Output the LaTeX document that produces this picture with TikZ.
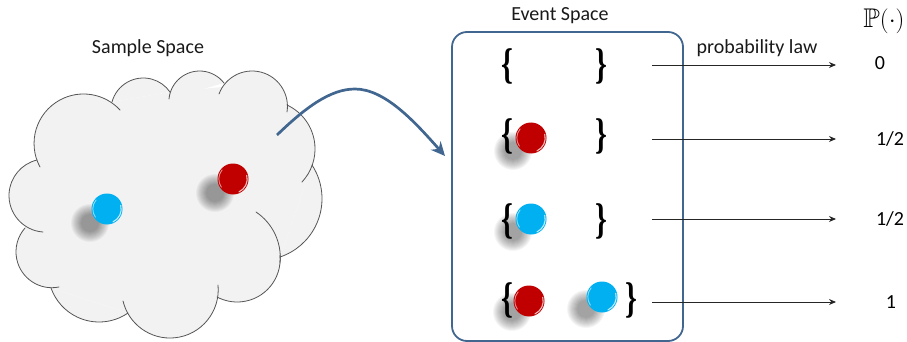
\documentclass[tikz,border=0pt]{standalone}
\usepackage{amssymb}
\usepackage{graphicx}
\usepackage{fontspec}
\setmainfont{Carlito}
\newfontfamily\bracefont{Liberation Serif}
\usetikzlibrary{arrows.meta,calc}
\definecolor{frameblue}{HTML}{41668F}
\definecolor{cloudfill}{HTML}{F2F2F2}
\definecolor{cloudline}{HTML}{555555}
\definecolor{ballred}{HTML}{C00000}
\definecolor{ballblue}{HTML}{00B0F0}
\tikzset{
  label text/.style={font=\fontsize{20}{24}\selectfont, inner sep=0pt, text=black!90},
  value text/.style={font=\fontsize{20}{24}\selectfont, inner sep=0pt, text=black},
  brace text/.style={font=\bracefont\bfseries\fontsize{43}{43}\selectfont, inner sep=0pt, text=black},
  ball/.style={circle, inner sep=0pt, minimum size=31pt},
  law arrow/.style={draw=black!85, line width=0.9pt, -{Stealth[length=7pt,width=6pt]}},
  cloud arc/.style={draw=cloudline, line width=0.8pt, line cap=round},
  cloud fill/.style={fill=cloudfill, draw=none},
}
% Narrowed set braces
\newcommand{\lbr}{\scalebox{0.7}[1]{\{}}
\newcommand{\rbr}{\scalebox{0.7}[1]{\}}}
% One marble: a soft shadow at the given offset, then the disc and its rim highlights
\newcommand{\marble}[6]{%
  \foreach \r in {9,10,...,19}
    \fill[black, opacity=0.04] ($(#2,#3)+(#5,#6)$) circle[radius=\r];
  \node[ball, fill=#4] (#1) at (#2,#3) {};
  \draw[white, opacity=0.75, line width=1.1pt, line cap=round]
    (#1.center) ++(65:14.2) arc[start angle=65, end angle=-15, radius=14.2];
  \draw[white, opacity=0.55, line width=0.9pt, line cap=round]
    (#1.center) ++(-140:14.2) arc[start angle=-140, end angle=-215, radius=14.2];
}
% Circular arc through three points; #1 is the path command, the rest are the points
\newcommand{\lobearc}[7]{%
  \pgfmathsetmacro{\ax}{(#4-#2)/100}\pgfmathsetmacro{\ay}{(#5-#3)/100}%
  \pgfmathsetmacro{\bx}{(#6-#2)/100}\pgfmathsetmacro{\by}{(#7-#3)/100}%
  \pgfmathsetmacro{\dd}{2*(\ax*\by-\ay*\bx)}%
  \pgfmathsetmacro{\aa}{\ax*\ax+\ay*\ay}\pgfmathsetmacro{\bb}{\bx*\bx+\by*\by}%
  \pgfmathsetmacro{\ux}{(\by*\aa-\ay*\bb)/\dd}\pgfmathsetmacro{\uy}{(\ax*\bb-\bx*\aa)/\dd}%
  \pgfmathsetmacro{\rad}{100*sqrt(\ux*\ux+\uy*\uy)}%
  \pgfmathsetmacro{\sa}{atan2(-\uy,-\ux)}%
  \pgfmathsetmacro{\ea}{atan2(\by-\uy,\bx-\ux)}%
  \pgfmathsetmacro{\ea}{\dd>0 ? (\ea<\sa ? \ea+360 : \ea) : (\ea>\sa ? \ea-360 : \ea)}%
  #1 (#2,#3) arc[start angle=\sa, end angle=\ea, radius=\rad];%
}
% Cloud lobes, each given by its start, a point on it, and its end
\newcommand{\lobes}[1]{%
  \lobearc{#1}{40}{167}{85}{94}{120}{110}%
  \lobearc{#1}{112}{102}{143}{78}{170}{92}%
  \lobearc{#1}{169}{99}{200}{71}{224}{83}%
  \lobearc{#1}{219}{94}{253}{71}{287}{112}%
  \lobearc{#1}{287}{105}{315}{147}{302}{182}%
  \lobearc{#1}{312}{165}{322}{200}{280}{257}%
  \lobearc{#1}{256}{212}{274}{232}{280}{263}%
  \lobearc{#1}{280}{255}{267}{290}{217}{297}%
  \lobearc{#1}{218}{285}{168}{338}{123}{301}%
  \lobearc{#1}{128}{313}{100}{322}{51}{288}%
  \lobearc{#1}{59}{287}{16}{253}{25}{228}%
  \lobearc{#1}{43}{232}{9}{195}{37}{160}%
}
\begin{document}
\begin{tikzpicture}[x=1pt,y=-1pt]
\useasboundingbox (0,0) rectangle (907,342);

% Cloud body: the lobes are filled first, and outlined afterwards
\fill[cloud fill] (38,160) -- (112,102) -- (170,92) -- (222,87) -- (286,105) -- (312,165)
  -- (280,257) -- (217,297) -- (128,313) -- (51,288) -- (25,228) -- cycle;
\lobes{\fill[cloud fill]}
\lobes{\draw[cloud arc]}

% Marbles lying in the sample space
\marble{sampleblue}{107}{209}{ballblue}{-17}{14}
\marble{samplered}{233}{179}{ballred}{-18}{14}
\node[label text] (sampletitle) at (148,48) {Sample Space};

% Event space frame
\draw[frameblue, line width=1.8pt, rounded corners=15pt] (452,32) rectangle (683,341);
\node[label text] (eventtitle) at (560,16) {Event Space};

% Marbles of the four events
\marble{rowtwored}{531}{138}{ballred}{-18}{13}
\marble{rowthreeblue}{531}{219}{ballblue}{-18}{13}
\marble{rowfourred}{529}{301}{ballred}{-17}{11}
\marble{rowfourblue}{602}{297}{ballblue}{-16}{12}

% Set braces for the four events
\node[brace text] (ol) at (507,66) {\lbr};
\node[brace text] (or) at (601,66) {\rbr};
\node[brace text] (tl) at (507,136) {\lbr};
\node[brace text] (tr) at (601,136) {\rbr};
\node[brace text] (hl) at (507,221) {\lbr};
\node[brace text] (hr) at (601,221) {\rbr};
\node[brace text] (fl) at (507,300) {\lbr};
\node[brace text] (fr) at (631,300) {\rbr};

% Mapping from the sample space to the event space
\coordinate (mapstart) at (277,135);
\coordinate (mapend) at (445,156);
\draw[frameblue, line width=2.7pt, -{Stealth[length=14pt,width=13pt]}]
  (mapstart) .. controls (305,108) and (330,89) .. (355,89)
  .. controls (385,89) and (415,122) .. (mapend);

% Probability law arrows with their values
\coordinate (a1) at (652,65);  \coordinate (b1) at (836,65);
\coordinate (a2) at (652,139); \coordinate (b2) at (836,139);
\coordinate (a3) at (652,219); \coordinate (b3) at (836,219);
\coordinate (a4) at (652,302); \coordinate (b4) at (836,302);
\draw[law arrow] (a1) -- (b1);
\draw[law arrow] (a2) -- (b2);
\draw[law arrow] (a3) -- (b3);
\draw[law arrow] (a4) -- (b4);
\node[label text] (lawlabel) at (757,48) {probability law};
\node[font=\fontsize{27}{30}\selectfont, inner sep=0pt] (phead) at (884,21) {$\mathbb{P}(\cdot)$};
\node[value text] (v1) at (880,63) {0};
\node[value text] (v2) at (890,139) {1/2};
\node[value text] (v3) at (890,219) {1/2};
\node[value text] (v4) at (891,302) {1};
\end{tikzpicture}
\end{document}
